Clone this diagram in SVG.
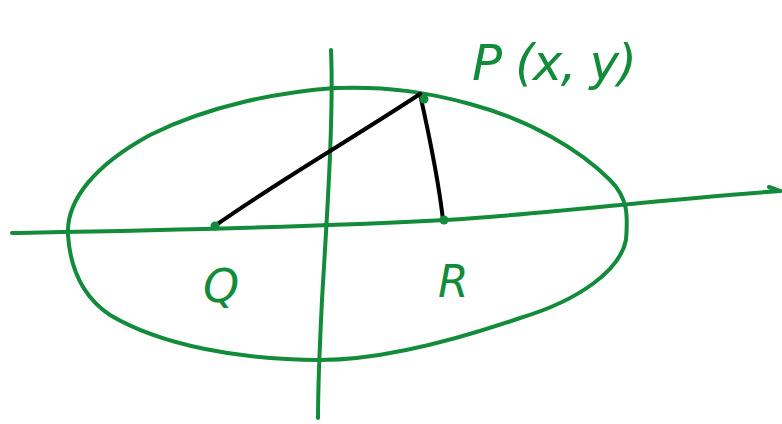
<svg xmlns="http://www.w3.org/2000/svg" width="782" height="424" viewBox="0 0 782 424">
<style>
.g{fill:none;stroke:#128b3a;stroke-width:4;stroke-linecap:round;stroke-linejoin:round}
.k{fill:none;stroke:#000;stroke-width:4;stroke-linecap:round;stroke-linejoin:round}
.lbl{fill:#128b3a;font-family:"DejaVu Sans",sans-serif;font-style:italic}
.dot{fill:#128b3a}
</style>
<rect width="782" height="424" fill="#fff"/>
<g id="axes">
<path class="g" d="M12,233 C120,231 300,228 445,220 C560,213 650,200 780,191"/>
<path class="g" d="M769,187 L780,191"/>
<path class="g" d="M331,50 C334,120 326,230 322,300 C319,360 318,395 318,418"/>
</g>
<g id="ellipse">
<path class="g" d="M68,235 C66,200 95,165 150,135 C210,105 280,92 335,88 C390,86 430,93 470,104 C530,120 580,150 610,180 C628,198 628,215 626,240 C620,270 580,300 520,318 C450,342 380,360 320,360 C240,360 160,345 110,315 C80,295 70,265 68,235 Z"/>
</g>
<g id="connectors">
<path class="k" d="M216,225 C280,180 350,140 420,94"/>
<path class="k" d="M420,94 C428,130 438,175 443,220"/>
</g>
<g id="Q">
<circle class="dot" cx="215" cy="226" r="4.5"/>
<text class="lbl" x="203" y="302" font-size="46">Q</text>
</g>
<g id="R">
<circle class="dot" cx="444" cy="220" r="4.5"/>
<text class="lbl" x="438" y="297" font-size="44">R</text>
</g>
<g id="P">
<circle class="dot" cx="424" cy="99" r="4.5"/>
<text class="lbl" x="472" y="80" font-size="50" textLength="165" lengthAdjust="spacing">P (x, y)</text>
</g>
</svg>
